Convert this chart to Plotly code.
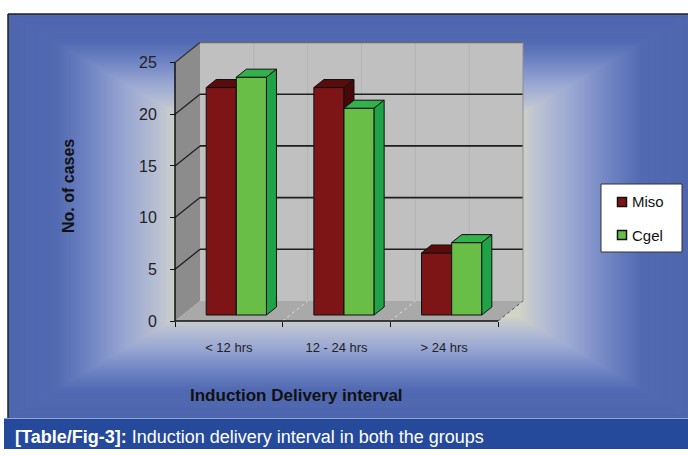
import plotly.graph_objects as go

# ---------------- data ----------------
categories = ["< 12 hrs", "12 - 24 hrs", "> 24 hrs"]
miso = [22, 22, 6]
cgel = [23, 20, 7]
series_names = ["Miso", "Cgel"]
y_ticks = [0, 5, 10, 15, 20, 25]
y_max = 25
caption = "<b>[Table/Fig-3]:</b> Induction delivery interval in both the groups"
x_title = "Induction Delivery interval"
y_title = "No. of cases"

# ---------------- geometry / style ----------------
W, H = 688, 456
FONT = "Arial, Liberation Sans, sans-serif"
AX_L, AX_B = 175, 321          # pixel of the front origin
KX, KY = 107.67, 10.34         # pixels per category unit / per value unit
PL, PR, PT, PB = 165, 560, 30, 331


def fx(p):
    return p / W


def fy(p):
    return 1 - p / H


x_range = [(PL - AX_L) / KX, (PR - AX_L) / KX]
y_range = [(AX_B - PB) / KY, (AX_B - PT) / KY]

ncat = len(categories)
WDX, WDY = 25 / KX, 20 / KY     # depth of the 3d box
DF, DB = 0.3, 0.7               # bar front / back depth fraction
BAR_W, GAP = 0.28, 0.22
face_colors = {
    "Miso": ("#7d1416", "#5a0b0c", "#460808"),
    "Cgel": ("#69be48", "#33b14b", "#20a347"),
}

fig = go.Figure()

# ---------------- bars (3d prisms) ----------------
bx0, by0 = WDX * DF, WDY * DF
ddx, ddy = WDX * (DB - DF), WDY * (DB - DF)
for i in range(ncat):
    for j, (name, vals) in enumerate(zip(series_names, [miso, cgel])):
        v = vals[i]
        x0 = i + GAP + j * BAR_W + bx0
        x1 = x0 + BAR_W
        b = by0
        t = b + v
        front, top, side = face_colors[name]
        polys = [
            ([x0, x1, x1, x0, x0], [b, b, t, t, b], front),
            ([x0, x1, x1 + ddx, x0 + ddx, x0], [t, t, t + ddy, t + ddy, t], top),
            ([x1, x1 + ddx, x1 + ddx, x1, x1], [b, b + ddy, t + ddy, t, b], side),
        ]
        for xs, ys, c in polys:
            fig.add_trace(go.Scatter(
                x=xs, y=ys, mode="lines", fill="toself", fillcolor=c,
                line=dict(color="#111111", width=1), hoverinfo="skip",
                showlegend=False, name=name))

shapes = []

# ---------------- background gradient (rectangular, from centre) ----------------
BX0, BX1, BY0, BY1 = 8, 690, 14, 418
cx, cy = (BX0 + BX1) / 2, (BY0 + BY1) / 2
HW, HH = (BX1 - BX0) / 2, (BY1 - BY0) / 2
stops = [(0.0, (214, 214, 198)), (0.5, (210, 212, 198)), (0.56, (186, 193, 210)),
         (0.66, (152, 166, 210)), (0.76, (114, 134, 196)), (0.86, (82, 106, 178)),
         (1.0, (78, 102, 174))]


def grad(t):
    for (t0, c0), (t1, c1) in zip(stops[:-1], stops[1:]):
        if t0 <= t <= t1:
            f = (t - t0) / (t1 - t0)
            return "rgb(%d,%d,%d)" % tuple(round(a + (b_ - a) * f) for a, b_ in zip(c0, c1))
    return "rgb(%d,%d,%d)" % stops[-1][1]


N = 110
for k in range(N + 1):
    t = 1.0 - k * (1.0 - 0.42) / N
    shapes.append(dict(type="rect", xref="paper", yref="paper", layer="below",
                       x0=fx(cx - t * HW), x1=fx(cx + t * HW),
                       y0=fy(cy + t * HH), y1=fy(cy - t * HH),
                       fillcolor=grad(t), line=dict(width=0)))

# frame lines
shapes.append(dict(type="line", xref="paper", yref="paper", layer="below",
                   x0=fx(BX0), x1=fx(W), y0=fy(BY0), y1=fy(BY0),
                   line=dict(color="#222222", width=1.5)))
shapes.append(dict(type="line", xref="paper", yref="paper", layer="below",
                   x0=fx(BX0), x1=fx(BX0), y0=fy(BY0), y1=fy(BY1),
                   line=dict(color="#222222", width=1.5)))

# ---------------- 3d walls (data coords) ----------------


def path(pts):
    return "M " + " L ".join("%f,%f" % p for p in pts) + " Z"


top_v = y_max
shapes.append(dict(type="path", xref="x", yref="y", layer="below",
                   path=path([(0, 0), (0, top_v), (WDX, top_v + WDY), (WDX, WDY)]),
                   fillcolor="#8c8c8c", line=dict(width=0)))
shapes.append(dict(type="path", xref="x", yref="y", layer="below",
                   path=path([(WDX, WDY), (ncat + WDX, WDY), (ncat + WDX, top_v + WDY),
                              (WDX, top_v + WDY)]),
                   fillcolor="#c0c0c0", line=dict(width=0)))
shapes.append(dict(type="path", xref="x", yref="y", layer="below",
                   path=path([(0, 0), (ncat, 0), (ncat + WDX, WDY), (WDX, WDY)]),
                   fillcolor="#a9a9a9", line=dict(width=0)))


def dline(x0, y0, x1, y1, color, width=1, dash="solid"):
    shapes.append(dict(type="line", xref="x", yref="y", layer="below",
                       x0=x0, y0=y0, x1=x1, y1=y1,
                       line=dict(color=color, width=width, dash=dash)))


for k in range(1, 2 * ncat):
    dline(WDX + k * 0.5, WDY, WDX + k * 0.5, top_v + WDY, "#b4b4b4", 1)
for v in y_ticks[1:-1]:
    dline(WDX, v + WDY, ncat + WDX, v + WDY, "#1e1e1e", 1.6)
    dline(0, v, WDX, v + WDY, "#1e1e1e", 1.3)
dline(WDX, top_v + WDY, ncat + WDX, top_v + WDY, "#6a6a6a", 1.5)
dline(0, top_v, WDX, top_v + WDY, "#333333", 1.2)
dline(ncat + WDX, WDY, ncat + WDX, top_v + WDY, "#8e8e8e", 1)
for k in range(1, ncat):
    dline(k, 0, k + WDX, WDY, "#dedede", 1, "dot")
dline(ncat, 0, ncat + WDX, WDY, "#555555", 1, "dot")
dline(0, 0, 0, top_v, "#111111", 1.5)
dline(0, 0, ncat, 0, "#111111", 1.5)

# ---------------- legend (manual box) ----------------
shapes.append(dict(type="rect", xref="paper", yref="paper",
                   x0=fx(601), x1=fx(682), y0=fy(252), y1=fy(184),
                   fillcolor="white", line=dict(color="#333333", width=1)))
annotations = []
for j, (name, yc) in enumerate(zip(series_names, [202, 235])):
    shapes.append(dict(type="rect", xref="paper", yref="paper",
                       x0=fx(617.5), x1=fx(626.5), y0=fy(yc + 4.5), y1=fy(yc - 4.5),
                       fillcolor=face_colors[name][0], line=dict(color="#111111", width=1.5)))
    annotations.append(dict(text=name, xref="paper", yref="paper", x=fx(630), y=fy(yc),
                            xanchor="left", yanchor="middle", showarrow=False,
                            font=dict(family=FONT, size=15, color="#111111")))

# ---------------- caption band ----------------
shapes.append(dict(type="rect", xref="paper", yref="paper",
                   x0=fx(4), x1=fx(W + 2), y0=fy(449), y1=fy(418.5),
                   fillcolor="#264a9b", line=dict(width=0)))
annotations.append(dict(text=caption, xref="paper", yref="paper", x=fx(13), y=fy(436.5),
                        xanchor="left", yanchor="middle", showarrow=False,
                        font=dict(family=FONT, size=18, color="white")))

# axis titles
annotations.append(dict(text="<b>%s</b>" % y_title, xref="paper", yref="paper",
                        x=fx(68), y=fy(186), textangle=-90, showarrow=False,
                        xanchor="center", yanchor="middle",
                        font=dict(family=FONT, size=16, color="#111111")))
annotations.append(dict(text="<b>%s</b>" % x_title, xref="paper", yref="paper",
                        x=fx(296), y=fy(395), showarrow=False,
                        xanchor="center", yanchor="middle",
                        font=dict(family=FONT, size=17, color="#111111")))

fig.update_layout(
    width=W, height=H, margin=dict(l=0, r=0, t=0, b=0),
    paper_bgcolor="white", plot_bgcolor="rgba(0,0,0,0)",
    showlegend=False, shapes=shapes, annotations=annotations,
    font=dict(family=FONT),
    xaxis=dict(domain=[fx(PL), fx(PR)], range=x_range, showgrid=False, zeroline=False,
               showline=False, tickmode="array",
               tickvals=[i + 0.5 for i in range(ncat)], ticktext=categories,
               ticks="", tickfont=dict(family=FONT, size=13, color="#222222"),
               minor=dict(tickmode="array", tickvals=list(range(ncat + 1)), ticks="outside",
                          ticklen=5, tickcolor="#111111", tickwidth=1),
               anchor="free", position=fy(AX_B), ticklabelstandoff=17, fixedrange=True),
    yaxis=dict(domain=[fy(PB), fy(PT)], range=y_range, showgrid=False, zeroline=False,
               showline=False, tickmode="array", tickvals=y_ticks,
               ticks="outside", ticklen=5, tickcolor="#111111", tickwidth=1,
               tickfont=dict(family=FONT, size=16, color="#222222"),
               anchor="free", position=fx(AX_L), ticklabelstandoff=10, fixedrange=True),
)

fig.write_html("out.html", config={"displayModeBar": False})
